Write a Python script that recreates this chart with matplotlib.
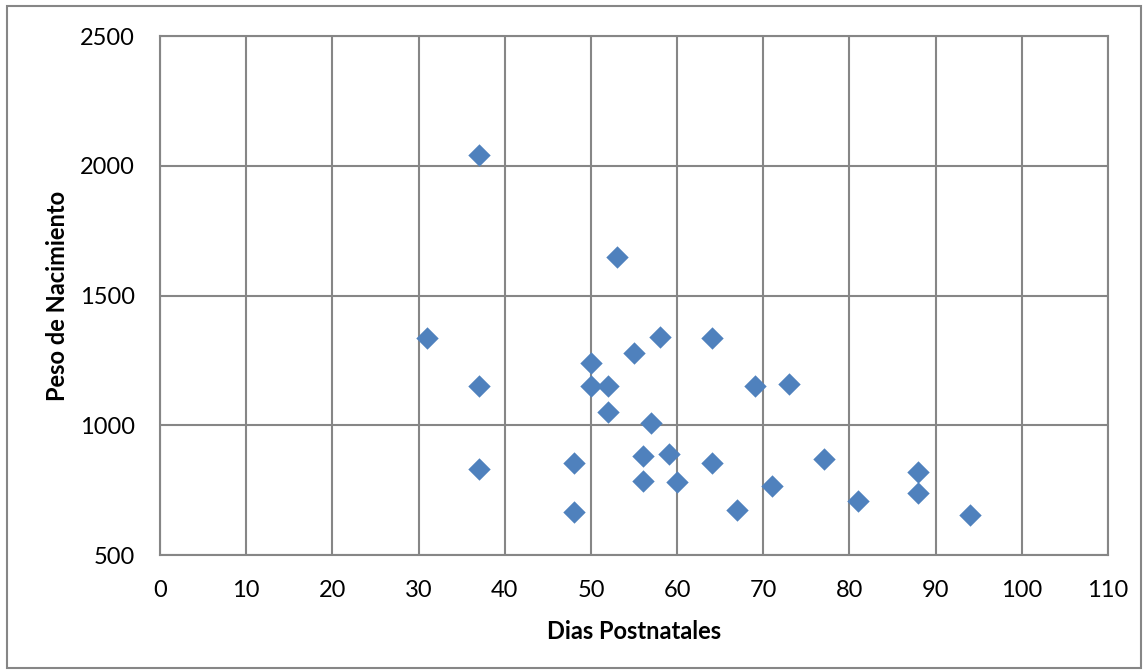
import matplotlib
matplotlib.use('Agg')
import matplotlib.pyplot as plt
from matplotlib.patches import Rectangle

# dias postnatales vs peso de nacimiento
dias = [31, 37, 37, 37, 48, 48, 50, 50, 52, 52, 53, 55, 56, 56, 57, 58, 59, 60,
        64, 64, 67, 69, 71, 73, 77, 81, 88, 88, 94]
peso = [1335, 2040, 1150, 830, 855, 665, 1240, 1150, 1150, 1050, 1650, 1280, 880, 785, 1010, 1340, 890, 780,
        1335, 855, 675, 1150, 765, 1160, 870, 710, 820, 740, 655]

plt.rcParams['font.family'] = ['Lato', 'DejaVu Sans']

fig = plt.figure(figsize=(11.48, 6.72), dpi=100)
ax = fig.add_axes([0.1394, 0.1741, 0.8258, 0.7723])

ax.scatter(dias, peso, marker='D', s=130, color='#4F81BD', zorder=3, linewidths=0)

ax.set_xlim(0, 110)
ax.set_ylim(500, 2500)
ax.set_xticks(range(0, 111, 10))
ax.set_yticks(range(500, 2501, 500))
ax.grid(True, color='#868686', linewidth=1.5)
ax.set_axisbelow(True)
for s in ax.spines.values():
    s.set_color('#868686')
    s.set_linewidth(1.5)
ax.tick_params(length=0, labelsize=17)
ax.tick_params(axis='y', pad=18)
ax.tick_params(axis='x', pad=18)

ax.set_xlabel('Dias Postnatales', fontsize=17, fontweight='bold', labelpad=14)
ax.set_ylabel('Peso de Nacimiento', fontsize=17, fontweight='bold', labelpad=8)

# marco del grafico
fig.patches.append(Rectangle((7 / 1148, 4 / 672), 1134 / 1148, 662 / 672, transform=fig.transFigure,
                             fill=False, edgecolor='#868686', linewidth=1.5))

fig.savefig('out.png', dpi=100)
